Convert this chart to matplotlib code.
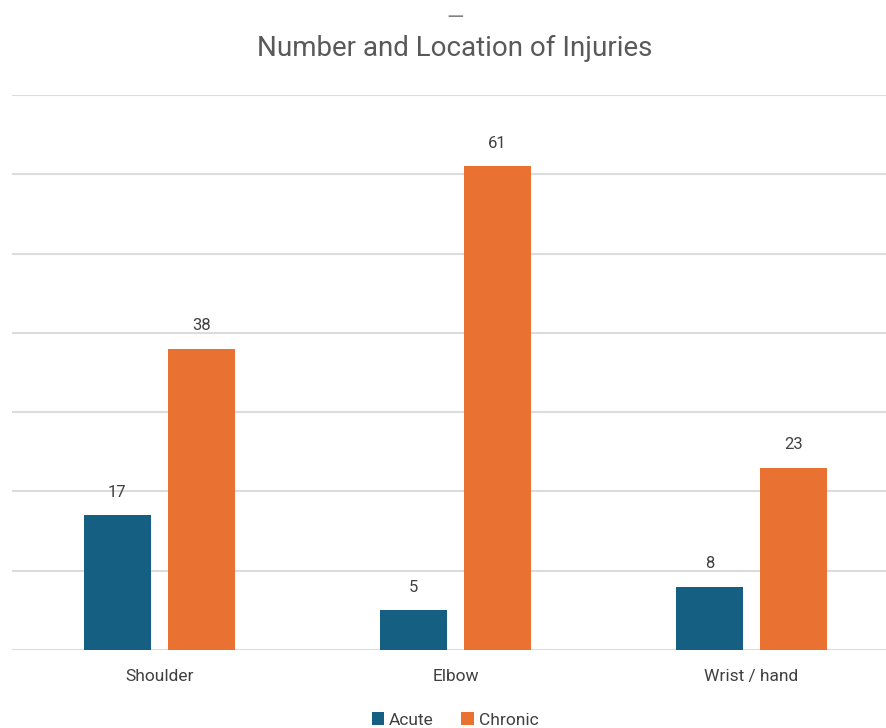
import numpy as np
import matplotlib.pyplot as plt

# dados
locais = ["Shoulder", "Elbow", "Wrist / hand"]
agudas = [17, 5, 8]
cronicas = [38, 61, 23]
series = ["Acute", "Chronic"]
cores = ["#156082", "#E97132"]

plt.rcParams['font.family'] = ['Roboto', 'DejaVu Sans']

fig = plt.figure(figsize=(8.87, 7.28), dpi=100)
ax = fig.add_axes([0.0135, 0.1071, 0.9865, 0.7624])

x = np.arange(len(locais))
largura = 0.226
desloc = 0.142

b1 = ax.bar(x - desloc, agudas, largura, color=cores[0], label=series[0], zorder=3)
b2 = ax.bar(x + desloc, cronicas, largura, color=cores[1], label=series[1], zorder=3)

for barras in (b1, b2):
    ax.bar_label(barras, padding=11, fontsize=12, color="#404040")

ax.set_ylim(0, 70)
ax.set_xlim(-0.498, 2.458)
ax.set_yticks(np.arange(0, 71, 10))
ax.set_yticklabels([])
ax.tick_params(axis='y', length=0)
ax.tick_params(axis='x', length=0, pad=14, labelsize=12.5, labelcolor="#404040")
ax.set_xticks(x)
ax.set_xticklabels(locais)
ax.grid(axis='y', color="#dcdcdc", linewidth=1.5, zorder=0)
for s in ax.spines.values():
    s.set_visible(False)

fig.text(0.513, 0.934, "Number and Location of Injuries", ha='center', va='center',
         fontsize=20, color="#595959")
fig.text(0.513, 0.975, "\u2014", ha='center', va='center', fontsize=16, color="#808080")

fig.legend(loc='center', bbox_to_anchor=(0.513, 0.011), ncol=2, frameon=False,
           fontsize=12.5, handlelength=0.7, handleheight=0.7, handletextpad=0.3,
           columnspacing=1.6, labelcolor="#404040")

plt.savefig("out.png", dpi=100)
